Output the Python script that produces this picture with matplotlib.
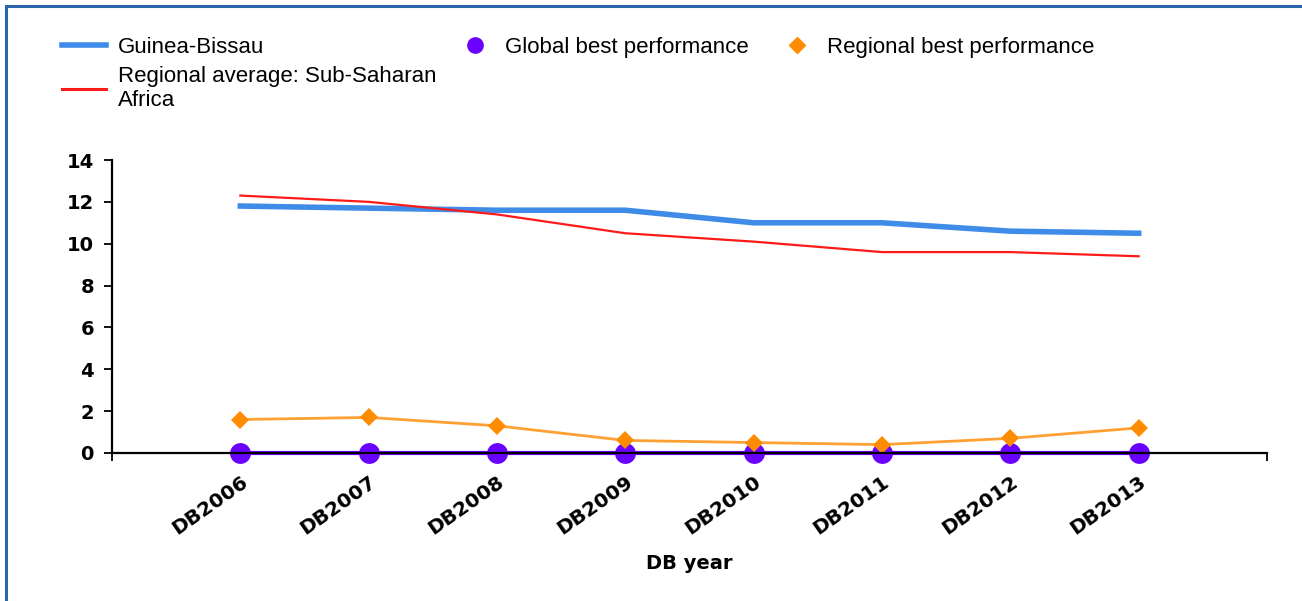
import numpy as np
import matplotlib.pyplot as plt
from matplotlib.lines import Line2D

# data
years = ['DB2006', 'DB2007', 'DB2008', 'DB2009', 'DB2010', 'DB2011', 'DB2012', 'DB2013']
guinea_bissau = [11.8, 11.7, 11.6, 11.6, 11.0, 11.0, 10.6, 10.5]
regional_avg = [12.3, 12.0, 11.4, 10.5, 10.1, 9.6, 9.6, 9.4]
regional_best = [1.6, 1.7, 1.3, 0.6, 0.5, 0.4, 0.7, 1.2]
global_best = [0, 0, 0, 0, 0, 0, 0, 0]
yticks = [0, 2, 4, 6, 8, 10, 12, 14]

c_blue = '#3f8be8'
c_red = '#ff1a1a'
c_orange = '#ff8c00'
c_orange_line = '#ffa033'
c_purple = '#6a00ff'

fig = plt.figure(figsize=(13.02, 6.01), dpi=100)
ax = fig.add_axes([112/1302, 1-453/601, (1267-112)/1302, (453-160)/601])

x = np.arange(len(years))

ax.plot(x, global_best, color=c_purple, lw=3, marker='o', ms=15,
        markeredgewidth=0, clip_on=False, zorder=3)
ax.plot(x, regional_best, color=c_orange_line, lw=2, zorder=4)
ax.plot(x, regional_best, ls='none', marker='D', ms=9, color=c_orange,
        markeredgewidth=0, clip_on=False, zorder=5)
ax.plot(x, regional_avg, color=c_red, lw=1.6, zorder=4)
ax.plot(x, guinea_bissau, color=c_blue, lw=4, zorder=3)

ax.set_xlim(-1, 8)
ax.set_ylim(0, 14)
ax.set_yticks(yticks)
ax.set_yticklabels([str(v) for v in yticks], fontsize=14, fontweight='bold')

ax.set_xticks(np.arange(-1, 9))
ax.set_xticklabels([''] + years + [''], fontsize=14.5, fontweight='bold',
                   rotation=35, ha='right', va='top', rotation_mode='anchor')
ax.tick_params(axis='x', length=6, width=1.3, direction='out', pad=8)
ax.tick_params(axis='y', length=6, width=1.3, direction='out', pad=7)

for s in ['top', 'right']:
    ax.spines[s].set_visible(False)
for s in ['left', 'bottom']:
    ax.spines[s].set_linewidth(1.6)
    ax.spines[s].set_zorder(6)

ax.set_xlabel('DB year', fontsize=14, fontweight='bold', labelpad=11)

# legend, laid out by hand
lprop = {'family': 'Liberation Sans', 'size': 16}
handles = [
    Line2D([], [], color=c_blue, lw=4),
    Line2D([], [], color=c_red, lw=2.2),
]
leg1 = fig.legend(handles, ['Guinea-Bissau', 'Regional average: Sub-Saharan\nAfrica'],
                  loc='upper left', bbox_to_anchor=(62/1302, 1-37/601), frameon=False,
                  prop=lprop, handlelength=2.0, handletextpad=0.5,
                  labelspacing=0.35, borderaxespad=0, borderpad=0)
leg2 = fig.legend([Line2D([], [], ls='none', marker='o', ms=11, color=c_purple)],
                  ['Global best performance'],
                  loc='upper left', bbox_to_anchor=(462/1302, 1-37/601), frameon=False,
                  prop=lprop, handlelength=1.2, handletextpad=0.75,
                  borderaxespad=0, borderpad=0)
leg3 = fig.legend([Line2D([], [], ls='none', marker='D', ms=8, color=c_orange)],
                  ['Regional best performance'],
                  loc='upper left', bbox_to_anchor=(784/1302, 1-37/601), frameon=False,
                  prop=lprop, handlelength=1.2, handletextpad=0.75,
                  borderaxespad=0, borderpad=0)

# blue frame at top and left
fig.add_artist(Line2D([6/1302, 6/1302], [0, 1-6/601], color='#2b64ad', lw=2.2))
fig.add_artist(Line2D([6/1302, 1], [1-6/601, 1-6/601], color='#2b64ad', lw=2.2))

fig.savefig('out.png', dpi=100)
